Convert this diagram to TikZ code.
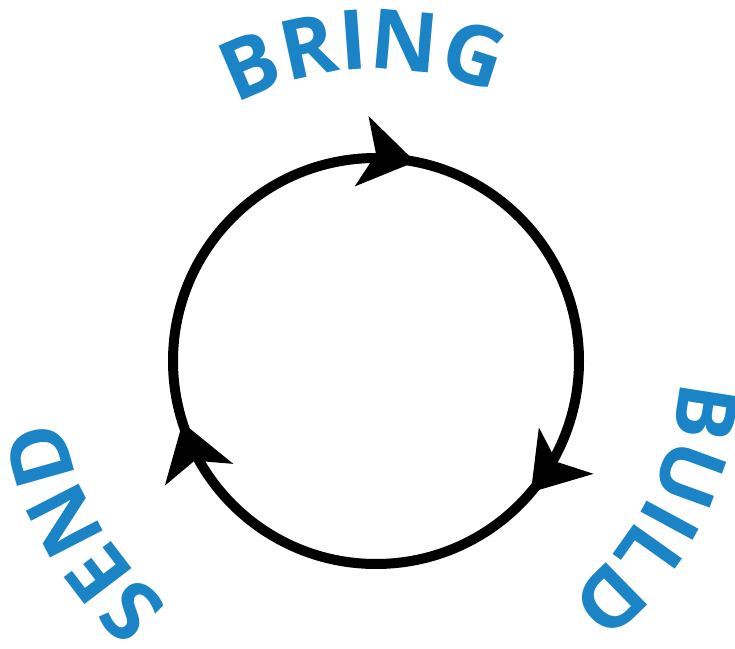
\documentclass[tikz,border=0pt]{standalone}
\usepackage{fontspec}
\usetikzlibrary{arrows.meta, decorations.markings, decorations.text}

\newfontfamily\labelfont{Open Sans}
\newcommand{\wordfont}{\labelfont\bfseries\fontsize{83}{83}\selectfont}
\definecolor{cycleblue}{RGB}{27,132,198}

\tikzset{
    cyclehead/.tip={Stealth[length=54pt, width=70pt, inset=14pt]},
    cycleword/.style={decorate, decoration={text along path, text align=center, text color=cycleblue, text={|\wordfont|#1}}}
}

\begin{document}
\begin{tikzpicture}[x=1pt, y=1pt]

    % Canvas
    \useasboundingbox (-376,-287) rectangle (359,361);

    % Circle
    \draw[line width=10pt, postaction={decorate}, decoration={markings,
        mark=at position 0.031 with {\arrow{cyclehead}},
        mark=at position 0.362 with {\arrow{cyclehead}},
        mark=at position 0.701 with {\arrow{cyclehead}}}]
        (90:203) arc[start angle=90, end angle=-270, radius=203];

    % Words
    \path[cycleword=BRING] (132.5:292) arc[start angle=132.5, end angle=52.5, radius=292];
    \path[cycleword=BUILD] (12.5:305) arc[start angle=12.5, end angle=-67.5, radius=305];
    \path[cycleword=SEND] (250:320) arc[start angle=250, end angle=170, radius=320];

\end{tikzpicture}
\end{document}
